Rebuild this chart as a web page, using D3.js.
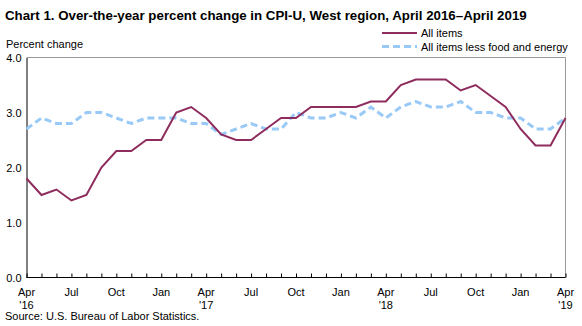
<!DOCTYPE html>
<html><head><meta charset="utf-8">
<script src="https://cdn.jsdelivr.net/npm/d3@7"></script>
<style>body{margin:0;background:#fff;}svg{display:block;font-family:"Liberation Sans",Arial,sans-serif;}</style>
</head><body>
<svg id="c" width="582" height="326"></svg>
<script>
const months = ["Apr 2016","May 2016","Jun 2016","Jul 2016","Aug 2016","Sep 2016","Oct 2016","Nov 2016","Dec 2016",
"Jan 2017","Feb 2017","Mar 2017","Apr 2017","May 2017","Jun 2017","Jul 2017","Aug 2017","Sep 2017","Oct 2017","Nov 2017","Dec 2017",
"Jan 2018","Feb 2018","Mar 2018","Apr 2018","May 2018","Jun 2018","Jul 2018","Aug 2018","Sep 2018","Oct 2018","Nov 2018","Dec 2018",
"Jan 2019","Feb 2019","Mar 2019","Apr 2019"];
const allItems = [1.8,1.5,1.6,1.4,1.5,2.0,2.3,2.3,2.5,2.5,3.0,3.1,2.9,2.6,2.5,2.5,2.7,2.9,2.9,3.1,3.1,3.1,3.1,3.2,3.2,3.5,3.6,3.6,3.6,3.4,3.5,3.3,3.1,2.7,2.4,2.4,2.9];
const core = [2.7,2.9,2.8,2.8,3.0,3.0,2.9,2.8,2.9,2.9,2.9,2.8,2.8,2.6,2.7,2.8,2.7,2.7,3.0,2.9,2.9,3.0,2.9,3.1,2.9,3.1,3.2,3.1,3.1,3.2,3.0,3.0,2.9,2.9,2.7,2.7,2.9];
const yTicks = [0.0,1.0,2.0,3.0,4.0];
const xLabels = {0:["Apr","'16"],3:["Jul"],6:["Oct"],9:["Jan"],12:["Apr","'17"],15:["Jul"],18:["Oct"],21:["Jan"],24:["Apr","'18"],27:["Jul"],30:["Oct"],33:["Jan"],36:["Apr","'19"]};
const seriesNames = ["All items","All items less food and energy"];

const svg = d3.select("#c");
const L=26.5, R=565.5, T=57.5, B=277.5;
const x = d3.scaleLinear().domain([0, months.length-1]).range([L,R]);
const y = d3.scaleLinear().domain([0,4]).range([B,T]);

svg.append("text").attr("x",5).attr("y",20).attr("font-size",13.3).attr("font-weight","bold").attr("fill","#000")
  .text("Chart 1. Over-the-year percent change in CPI-U, West region, April 2016\u2013April 2019");
svg.append("text").attr("x",6).attr("y",48).attr("font-size",11).text("Percent change");

// frame
svg.append("line").attr("x1",L).attr("x2",R).attr("y1",T).attr("y2",T).attr("stroke","#999").attr("stroke-width",1);
svg.append("line").attr("x1",R).attr("x2",R).attr("y1",T).attr("y2",B).attr("stroke","#999").attr("stroke-width",1);

// y axis
const ya = svg.append("g").attr("transform",`translate(${L},0)`)
  .call(d3.axisLeft(y).tickValues(yTicks).tickFormat(d3.format(".1f")).tickSize(0).tickPadding(5));
ya.select(".domain").attr("stroke","#000");
ya.selectAll("text").attr("font-size",11).attr("font-family","Liberation Sans, Arial, sans-serif").attr("fill","#000");

// x axis
const xa = svg.append("g").attr("transform",`translate(0,${B})`)
  .call(d3.axisTop(x).tickValues(d3.range(months.length)).tickSize(4).tickFormat(""));
xa.select(".domain").attr("stroke","#000").attr("d",`M${L},0H${R}`);
xa.selectAll(".tick line").attr("stroke","#000");
Object.entries(xLabels).forEach(([i,lab])=>{
  const t = svg.append("text").attr("x",x(+i)).attr("y",296).attr("text-anchor","middle").attr("font-size",11);
  t.append("tspan").attr("x",x(+i)).attr("dy",0).text(lab[0]);
  if(lab[1]) t.append("tspan").attr("x",x(+i)).attr("dy",13).text(lab[1]);
});

const line = d3.line().x((d,i)=>x(i)).y(d=>y(d));
svg.append("path").datum(core).attr("d",line).attr("fill","none").attr("stroke","#99c9f7").attr("stroke-width",3).attr("stroke-dasharray","7,4");
svg.append("path").datum(allItems).attr("d",line).attr("fill","none").attr("stroke","#8f2c5e").attr("stroke-width",2);

// legend
const lg = svg.append("g");
lg.append("line").attr("x1",382).attr("x2",417).attr("y1",33).attr("y2",33).attr("stroke","#8f2c5e").attr("stroke-width",2);
lg.append("line").attr("x1",382).attr("x2",417).attr("y1",46.5).attr("y2",46.5).attr("stroke","#99c9f7").attr("stroke-width",3).attr("stroke-dasharray","7,4");
lg.append("text").attr("x",421).attr("y",37).attr("font-size",11).text(seriesNames[0]);
lg.append("text").attr("x",421).attr("y",50.5).attr("font-size",11).text(seriesNames[1]);

svg.append("text").attr("x",5).attr("y",320).attr("font-size",11).text("Source: U.S. Bureau of Labor Statistics.");
</script>
</body></html>
